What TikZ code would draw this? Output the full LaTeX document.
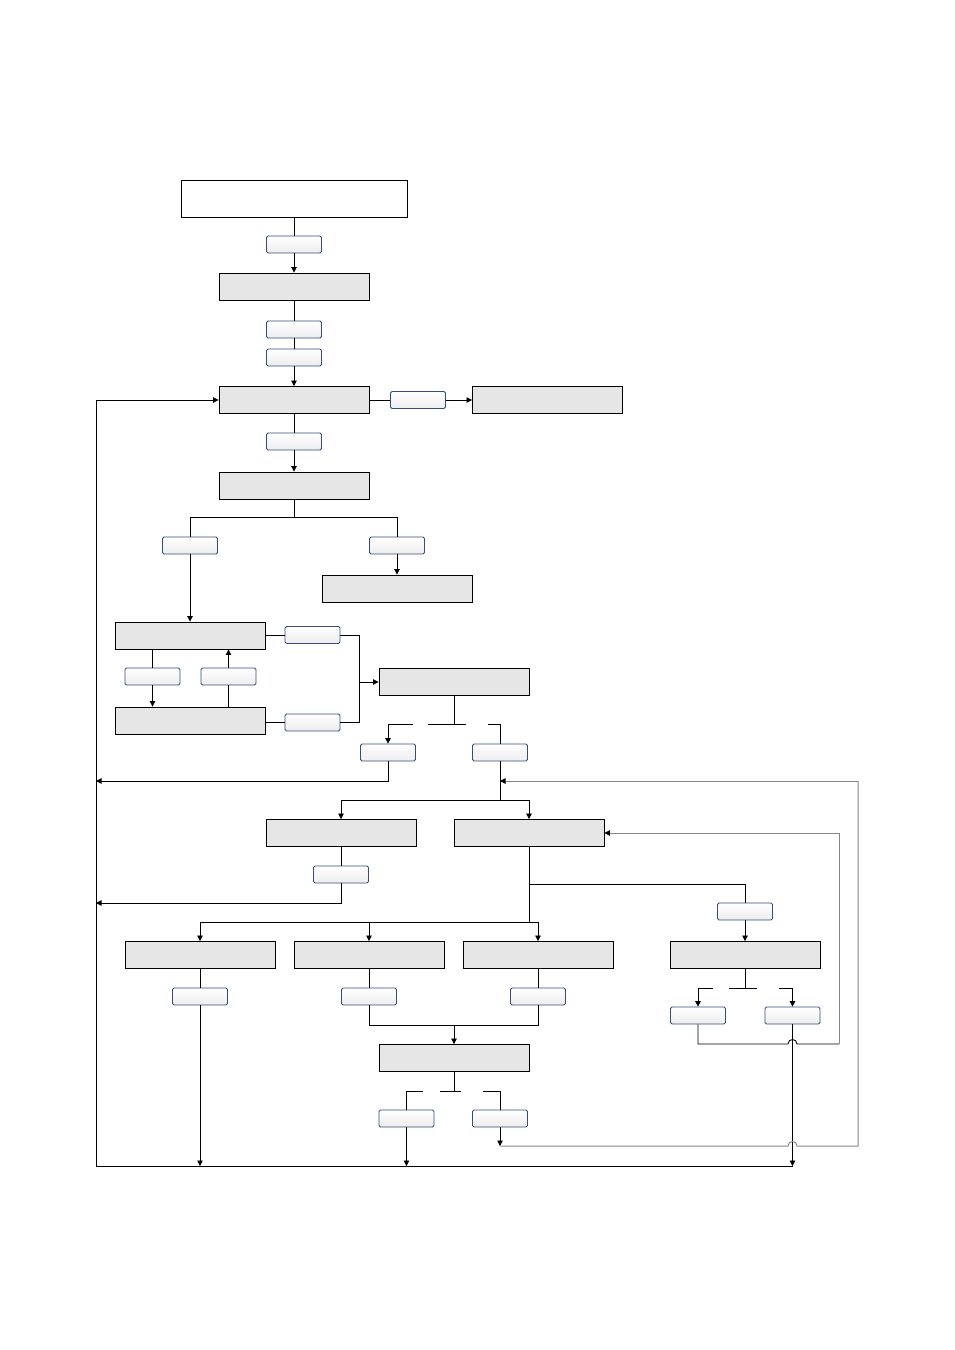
\documentclass[tikz,border=0pt]{standalone}
\usetikzlibrary{arrows.meta}
\definecolor{boxgray}{RGB}{230,230,230}
\definecolor{lblblue}{RGB}{55,75,125}
\definecolor{loopgray}{RGB}{135,135,135}
\begin{document}
\begin{tikzpicture}[x=1pt,y=-1pt,
  gbox/.style={draw=black,fill=boxgray,line width=0.9pt,minimum width=150pt,minimum height=27pt,inner sep=0pt},
  wbox/.style={draw=black,fill=white,line width=0.9pt,minimum width=226pt,minimum height=37pt,inner sep=0pt},
  lbl/.style={draw=lblblue,rounded corners=1.5pt,line width=0.75pt,top color=white,bottom color=gray!14,minimum width=55pt,minimum height=17pt,inner sep=0pt},
  conn/.style={draw=black,line width=0.85pt},
  arr/.style={conn,-{Triangle[length=5.5pt,width=5.5pt]}},
  gconn/.style={draw=loopgray,line width=1pt},
  garr/.style={gconn,-{Triangle[length=5.5pt,width=5.5pt,fill=black,color=black]}}]
\useasboundingbox (0,0) rectangle (954,1350);
% boxes
\node[wbox] (b0) at (294,198.5) {};
\node[gbox] (b1) at (294,286.5) {};
\node[gbox] (b2) at (294,400) {};
\node[gbox] (b3) at (547.5,400) {};
\node[gbox] (b4) at (294,485.5) {};
\node[gbox] (b5) at (397,588.5) {};
\node[gbox] (b6) at (190.5,635.5) {};
\node[gbox] (b7) at (190.5,720.5) {};
\node[gbox] (b8) at (454,682) {};
\node[gbox] (b9) at (341,833) {};
\node[gbox] (b10) at (529,833) {};
\node[gbox] (b11) at (200,955) {};
\node[gbox] (b12) at (369,955) {};
\node[gbox] (b13) at (538,955) {};
\node[gbox] (b14) at (745,955) {};
\node[gbox] (b15) at (454,1058) {};
% labels
\node[lbl] (l1) at (294,244.5) {};
\node[lbl] (l2) at (294,329.5) {};
\node[lbl] (l3) at (294,357.5) {};
\node[lbl] (l4) at (418,400) {};
\node[lbl] (l5) at (294,441.5) {};
\node[lbl] (l6) at (190,545.5) {};
\node[lbl] (l7) at (397,545.5) {};
\node[lbl] (l8) at (152.5,676.5) {};
\node[lbl] (l9) at (228.5,676.5) {};
\node[lbl] (l10) at (312.5,635) {};
\node[lbl] (l11) at (312.5,722.5) {};
\node[lbl] (l12) at (388,752.5) {};
\node[lbl] (l13) at (500,752.5) {};
\node[lbl] (l14) at (341,874.5) {};
\node[lbl] (l17) at (745,911.5) {};
\node[lbl] (l18) at (200,996.5) {};
\node[lbl] (l19) at (369,996.5) {};
\node[lbl] (l20) at (538,996.5) {};
\node[lbl] (l16) at (698,1015.5) {};
\node[lbl] (l23) at (792.5,1015.5) {};
\node[lbl] (l21) at (406.5,1118.5) {};
\node[lbl] (l22) at (500,1118.5) {};
% junction coordinates
\coordinate (jl1) at (96,400);
\coordinate (jl2) at (96,781);
\coordinate (jl3) at (96,903);
\coordinate (jl4) at (96,1166);
\coordinate (j8) at (359,682);
\coordinate (b15in) at (454,1025);
\coordinate (lp) at (500,781);
\coordinate (lp2) at (500,1146);
% connectors top chain
\draw[conn] (b0.south) -- (l1.north);
\draw[arr] (l1.south) -- (b1.north);
\draw[conn] (b1.south) -- (l2.north);
\draw[conn] (l2.south) -- (l3.north);
\draw[arr] (l3.south) -- (b2.north);
\draw[conn] (b2.east) -- (l4.west);
\draw[arr] (l4.east) -- (b3.west);
\draw[conn] (b2.south) -- (l5.north);
\draw[arr] (l5.south) -- (b4.north);
% b4 split
\draw[conn] (b4.south) -- (294,517) -| (l6.north);
\draw[conn] (294,517) -| (l7.north);
\draw[arr] (l7.south) -- (b5.north);
\draw[arr] (l6.south) -- (b6.north -| l6.south);
% b6/b7 loop
\draw[conn] (b6.south -| l8.north) -- (l8.north);
\draw[arr] (l8.south) -- (b7.north -| l8.south);
\draw[conn] (b7.north -| l9.south) -- (l9.south);
\draw[arr] (l9.north) -- (b6.south -| l9.north);
\draw[conn] (b6.east |- l10.west) -- (l10.west);
\draw[conn] (b7.east |- l11.west) -- (l11.west);
\draw[conn] (l10.east) -- (359,635) -- (359,722.5) -- (l11.east);
\draw[arr] (j8) -- (b8.west);
% b8 split
\draw[conn] (b8.south) -- (454,724);
\draw[conn] (388,724) -- (413,724);
\draw[conn] (428,724) -- (466,724);
\draw[conn] (488,724) -- (500,724);
\draw[arr] (388,724) -- (l12.north);
\draw[conn] (500,724) -- (l13.north);
\draw[arr] (l12.south) -- (388,781) -- (jl2);
\draw[conn] (l13.south) -- (500,800);
\draw[arr] (500,800) -| (b9.north);
\draw[arr] (500,800) -| (b10.north);
% b9
\draw[conn] (b9.south) -- (l14.north);
\draw[arr] (l14.south) -- (341,903) -- (jl3);
% left return line
\draw[arr] (jl4) -- (jl1) -- (b2.west);
\draw[conn] (jl4) -- (792.5,1166);
% b10 splits
\draw[conn] (b10.south) -- (529,922);
\draw[conn] (529,884) -| (l17.north);
\draw[arr] (l17.south) -- (b14.north);
\draw[arr] (529,922) -| (b11.north);
\draw[arr] (529,922) -| (b12.north);
\draw[arr] (529,922) -| (b13.north);
\draw[conn] (b11.south) -- (l18.north);
\draw[arr] (l18.south) -- (200,1166);
\draw[conn] (b12.south) -- (l19.north);
\draw[conn] (b13.south) -- (l20.north);
\draw[conn] (l19.south) -- (369,1025) -- (538,1025) -- (l20.south);
\draw[arr] (b15in) -- (b15.north);
% b15 split
\draw[conn] (b15.south) -- (454,1091);
\draw[conn] (406.5,1091) -- (423,1091);
\draw[conn] (440,1091) -- (461,1091);
\draw[conn] (483,1091) -- (500,1091);
\draw[conn] (406.5,1091) -- (l21.north);
\draw[conn] (500,1091) -- (l22.north);
\draw[arr] (l21.south) -- (406.5,1166);
\draw[arr] (l22.south) -- (lp2);
% b14 split
\draw[conn] (b14.south) -- (745,988);
\draw[conn] (698,988) -- (713,988);
\draw[conn] (729,988) -- (757,988);
\draw[conn] (779,988) -- (792.5,988);
\draw[arr] (698,988) -- (l16.north);
\draw[arr] (792.5,988) -- (l23.north);
\draw[arr] (l23.south) -- (792.5,1166);
% loops on the right
\draw[conn] (l16.south) -- (698,1044) -- (788,1044) .. controls (788,1038) and (797,1038) .. (797,1044) -- (839,1044);
\draw[garr] (839,1044) -- (839,833) -- (b10.east);
\draw[gconn] (lp2) -- (788,1146) .. controls (788,1140) and (797,1140) .. (797,1146) -- (858,1146) -- (858,781);
\draw[garr] (858,781) -- (lp);
\end{tikzpicture}
\end{document}
